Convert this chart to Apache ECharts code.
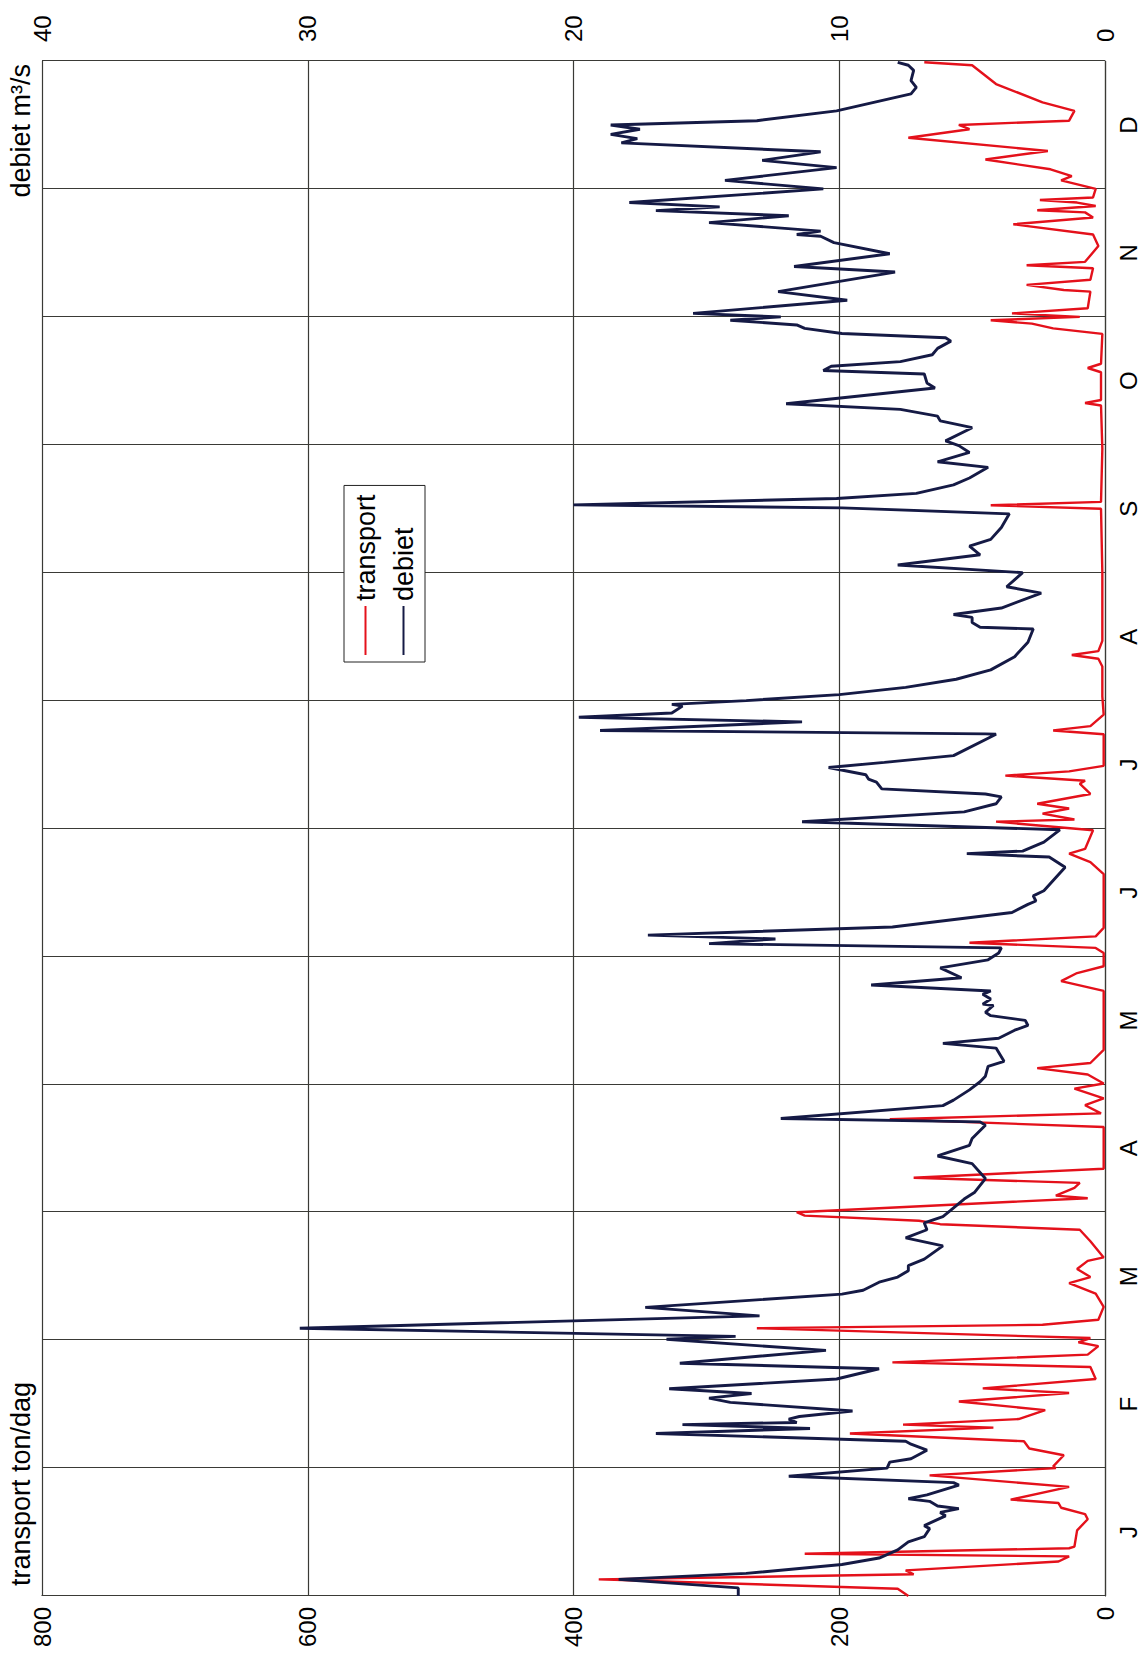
<!DOCTYPE html>
<html>
<head>
<meta charset="utf-8">
<script src="https://cdn.jsdelivr.net/npm/echarts/dist/echarts.min.js"></script>
<style>
  html, body { margin: 0; padding: 0; width: 1140px; height: 1667px; overflow: hidden; background: #fff; }
  /* the chart is laid out landscape and turned a quarter turn counter-clockwise */
  #chart { position: absolute; left: 0; top: 0; width: 1667px; height: 1140px;
           transform-origin: 0 0; transform: translateY(1667px) rotate(-90deg); }
</style>
</head>
<body>
<div id="chart"></div>
<script>
// month labels (one per 30-day block of the year)
const maanden = ['J', 'F', 'M', 'A', 'M', 'J', 'J', 'A', 'S', 'O', 'N', 'D'];

// sediment transport, ton/dag, at day-of-year positions
const transportDag = [
  0, 1.7, 3.9, 5.1, 6.0, 8.1, 9.3, 9.9, 11.2, 11.6, 15.4, 18.0, 19.2, 20.7, 21.8, 22.6, 25.6, 28.3, 30.0,
  30.4, 33.0, 34.6, 36.3, 38.1, 39.5, 40.2, 41.5, 43.6, 45.6, 47.6, 48.7, 50.9, 53.7, 54.8, 56.6, 58.6, 59.5,
  60.5, 62.8, 63.6, 64.8, 67.8, 70.9, 73.4, 74.8, 76.7, 78.6, 79.4, 83.2, 85.9, 87.2, 88.0, 89.2, 90.0,
  93.3, 93.9, 95.7, 96.9, 98.1, 100.2, 110.0, 111.8, 113.2, 115.1, 116.7, 119.0, 120.2,
  122.3, 123.8, 125.0, 128.1, 141.9, 144.2, 146.1, 147.7, 150.8,
  152.0, 153.2, 154.7, 156.7, 169.3, 172.1, 174.1, 175.2, 179.6,
  181.6, 182.1, 183.5, 184.7, 185.8, 188.1, 190.5, 191.2, 192.4, 193.4, 194.7, 202.1, 203.0, 204.0, 206.7, 211.0,
  218.0, 219.8, 220.7, 221.6, 224.0, 240.0,
  255.0, 255.8, 256.6, 269.0,
  279.2, 279.8, 280.5, 287.0, 288.0, 289.0, 296.0, 297.3, 298.4, 299.2, 300.0,
  300.8, 302.0, 305.9, 306.3, 307.5, 308.7, 311.4, 312.1, 312.9, 316.6, 319.3, 321.7, 323.3, 324.5, 325.0,
  326.0, 326.8, 327.4, 328.0, 330.0,
  332.0, 333.0, 334.6, 336.9, 338.9, 342.0, 344.0, 345.0, 346.0, 348.3, 350.3, 354.6, 359.0, 359.7
];
const transport = [
  148, 156, 381, 144, 150, 35, 27, 226, 27, 23, 21, 13, 15, 33, 35, 71, 27, 132, 37,
  39, 31, 57, 61, 192, 84, 152, 65, 45, 110, 27, 92, 7, 11, 160, 13, 5, 20,
  11, 262, 47, 5, 1, 7, 27, 11, 21, 13, 1, 11, 19, 124, 140, 226, 232,
  13, 37, 23, 19, 144, 1, 1, 162, 3, 15, 1, 23, 1,
  13, 51, 11, 1, 1, 33, 21, 1, 1,
  7, 102, 7, 1, 1, 11, 27, 15, 9,
  82, 23, 47, 27, 51, 11, 19, 15, 75, 27, 1, 1, 39, 11, 1, 2,
  2, 5, 25, 5, 2, 2,
  3, 86, 3, 2,
  3, 15, 3, 3, 13, 3, 2, 39, 55, 86, 19,
  70, 13, 11, 31, 59, 11, 9, 59, 15, 5, 9, 69, 9, 15, 51,
  7, 21, 49, 9, 7,
  33, 25, 41, 90, 43, 148, 102, 110, 27, 23, 47, 82, 100, 136
];

// discharge, m³/s, at day-of-year positions
const debietDag = [
  0, 1.9, 3.9, 5.3, 7.4, 8.9, 10.8, 12.7, 13.9, 15.8, 16.5, 18.8, 19.6, 20.5, 21.1, 22.2, 22.8, 23.7, 26.0, 26.6, 28.1, 30.0,
  31.4, 32.2, 34.2, 35.6, 36.3, 38.1, 39.3, 40.2, 40.7, 41.5, 42.1, 43.4, 45.4, 46.4, 47.5, 48.6, 50.9, 53.3, 54.6, 57.6, 60.2,
  60.9, 62.8, 65.7, 67.7, 70.8, 71.7, 73.6, 74.8, 76.3, 77.5, 79.0, 82.1, 84.0, 85.9, 87.5, 89.0, 90.5,
  93.1, 94.7, 97.9, 101.4, 103.2, 105.7, 107.3, 110.4, 111.2, 112.0, 115.0, 116.3, 118.7, 120.6,
  121.9, 124.2, 125.4, 128.5, 129.6, 130.8, 132.7, 133.8, 135.0, 136.1, 136.9, 138.5, 138.8, 140.0, 141.1, 141.9,
  143.3, 145.0, 147.3, 149.2, 150.8,
  152.0, 153.0, 154.1, 155.0, 156.9, 160.3, 162.2, 163.0, 164.2, 165.4, 170.9, 173.3, 174.1, 174.7, 176.8, 179.7,
  181.6, 183.9, 185.8, 187.4, 188.1, 189.3, 190.9, 191.6, 192.6, 194.3, 195.5, 197.1, 202.1, 202.2, 203.0, 205.0,
  206.1, 207.1, 208.7, 209.1,
  210.0, 211.4, 213.1, 215.0, 217.2, 220.3, 223.7, 226.8, 227.2, 228.3, 229.5, 230.2, 231.7, 235.2, 236.7, 240.0,
  241.8, 244.2, 246.2, 247.8, 250.6, 253.8, 255.2, 255.9, 257.4, 258.6, 260.6, 262.2, 264.7, 266.0, 268.2, 269.8,
  270.9, 274.0, 275.6, 276.7, 278.3, 279.6, 283.3, 284.5, 286.6, 287.4, 288.4, 289.5, 291.1, 292.6, 294.3, 295.1,
  296.1, 297.3, 298.1, 299.2, 300.0,
  300.8, 303.9, 305.9, 310.5, 311.8, 314.8, 317.4, 318.9, 319.3, 320.1, 322.1, 323.7, 324.9, 325.8, 326.8, 330.0,
  332.0, 335.0, 336.7, 338.7, 340.8, 341.8, 342.8, 344.0, 345.0, 346.0, 348.3, 352.3, 353.8, 355.4, 357.8, 359.0, 359.7
];
const debiet = [
  13.8, 13.8, 18.3, 13.5, 9.9, 8.5, 7.8, 7.4, 6.8, 6.6, 6.8, 6.0, 6.2, 5.5, 6.3, 6.6, 7.4, 6.7, 5.5, 5.7, 11.9, 8.2,
  8.1, 7.3, 6.7, 7.3, 7.5, 16.9, 11.1, 15.9, 11.6, 11.9, 11.5, 9.5, 14.1, 14.9, 13.3, 16.4, 10.1, 8.5, 16.0, 10.5, 16.5,
  13.9, 30.3, 13.0, 17.3, 9.9, 9.1, 8.5, 7.8, 7.4, 7.4, 6.8, 6.1, 7.5, 6.7, 6.8, 6.1, 5.8,
  5.3, 4.9, 4.5, 5.0, 6.3, 5.1, 5.0, 4.5, 4.7, 12.2, 6.1, 5.7, 5.1, 4.7,
  4.5, 4.4, 3.8, 4.1, 6.1, 4.0, 3.4, 2.9, 3.0, 4.3, 4.5, 4.2, 4.6, 4.3, 4.6, 4.3,
  8.8, 5.4, 6.2, 4.4, 4.0,
  3.9, 14.9, 12.4, 17.2, 8.0, 3.5, 2.9, 2.6, 2.7, 2.3, 1.5, 2.1, 5.2, 3.1, 2.3, 1.7,
  11.4, 5.3, 4.1, 3.9, 4.5, 8.4, 8.6, 8.9, 9.0, 10.4, 8.3, 5.7, 4.1, 4.5, 19.0, 11.4,
  19.8, 16.3, 15.9, 16.3,
  13.5, 10.0, 7.5, 5.6, 4.3, 3.4, 2.9, 2.7, 4.7, 5.0, 5.0, 5.7, 3.9, 2.4, 3.7, 3.1,
  7.8, 4.7, 5.1, 4.3, 3.9, 3.6, 9.9, 20.0, 10.1, 7.1, 5.7, 5.1, 4.4, 6.3, 5.1, 5.5,
  6.0, 5.0, 6.2, 6.3, 7.7, 12.0, 6.4, 6.7, 6.8, 10.6, 10.3, 7.7, 6.5, 6.3, 5.8, 6.0,
  9.9, 11.3, 11.6, 14.1, 12.2,
  15.5, 9.7, 12.3, 7.9, 11.7, 8.1, 10.2, 10.7, 11.6, 10.7, 14.9, 11.9, 16.9, 14.5, 17.9, 10.6,
  14.3, 10.1, 12.9, 10.7, 18.2, 17.6, 18.6, 17.5, 18.6, 13.1, 10.1, 7.3, 7.1, 7.3, 7.2, 7.4, 7.8
];

const font = "'Liberation Sans', Arial, Helvetica, sans-serif";
const gridColor = '#3a3a36';

const chart = echarts.init(document.getElementById('chart'), null,
  { renderer: 'svg', width: 1667, height: 1140 });

chart.setOption({
  animation: false,
  backgroundColor: '#ffffff',
  textStyle: { fontFamily: font, color: '#000' },
  grid: { left: 71, top: 42, width: 1535, height: 1063, containLabel: false },
  legend: {
    orient: 'vertical',
    left: 1005, top: 344,
    padding: [8, 9, 8, 7],
    itemGap: 11,
    itemWidth: 49, itemHeight: 2,
    icon: 'rect',
    backgroundColor: '#fff',
    borderColor: '#222', borderWidth: 1,
    textStyle: { fontFamily: font, fontSize: 27, lineHeight: 27, color: '#000' },
    data: ['transport', 'debiet']
  },
  xAxis: [
    {
      type: 'value', min: 0, max: 360, interval: 30,
      axisLine: { show: true, lineStyle: { color: gridColor, width: 1.2 } },
      axisTick: { show: false }, axisLabel: { show: false },
      splitLine: { show: true, lineStyle: { color: gridColor, width: 1.2 } }
    },
    {
      type: 'category', data: maanden, boundaryGap: true, position: 'bottom',
      axisLine: { show: false }, axisTick: { show: false }, splitLine: { show: false },
      axisLabel: { fontFamily: font, fontSize: 24, color: '#000', margin: 11 }
    }
  ],
  yAxis: [
    {
      type: 'value', min: 0, max: 800, interval: 200, position: 'left',
      name: 'transport ton/dag', nameLocation: 'end', nameGap: 21,
      nameTextStyle: { fontFamily: font, fontSize: 27, color: '#000', align: 'left', verticalAlign: 'middle', padding: [0, 0, 0, 10] },
      axisLine: { show: true, lineStyle: { color: gridColor, width: 1.2 } },
      axisTick: { show: false },
      axisLabel: { fontFamily: font, fontSize: 24, color: '#000', margin: 11 },
      splitLine: { show: true, lineStyle: { color: gridColor, width: 1.2 } }
    },
    {
      type: 'value', min: 0, max: 40, interval: 10, position: 'right',
      name: 'debiet m³/s', nameLocation: 'end', nameGap: 21,
      nameTextStyle: { fontFamily: font, fontSize: 27, color: '#000', align: 'right', verticalAlign: 'middle', padding: [0, 3, 0, 0] },
      axisLine: { show: false }, axisTick: { show: false },
      axisLabel: { fontFamily: font, fontSize: 24, color: '#000', margin: 19 },
      splitLine: { show: false }
    }
  ],
  series: [
    {
      name: 'transport', type: 'line', xAxisIndex: 0, yAxisIndex: 0,
      symbol: 'none', color: '#e4111b',
      lineStyle: { color: '#e4111b', width: 2.4 },
      data: transportDag.map((d, i) => [d, transport[i]])
    },
    {
      name: 'debiet', type: 'line', xAxisIndex: 0, yAxisIndex: 1,
      symbol: 'none', color: '#151a45',
      lineStyle: { color: '#151a45', width: 2.9 },
      data: debietDag.map((d, i) => [d, debiet[i]])
    }
  ]
});
</script>
</body>
</html>
